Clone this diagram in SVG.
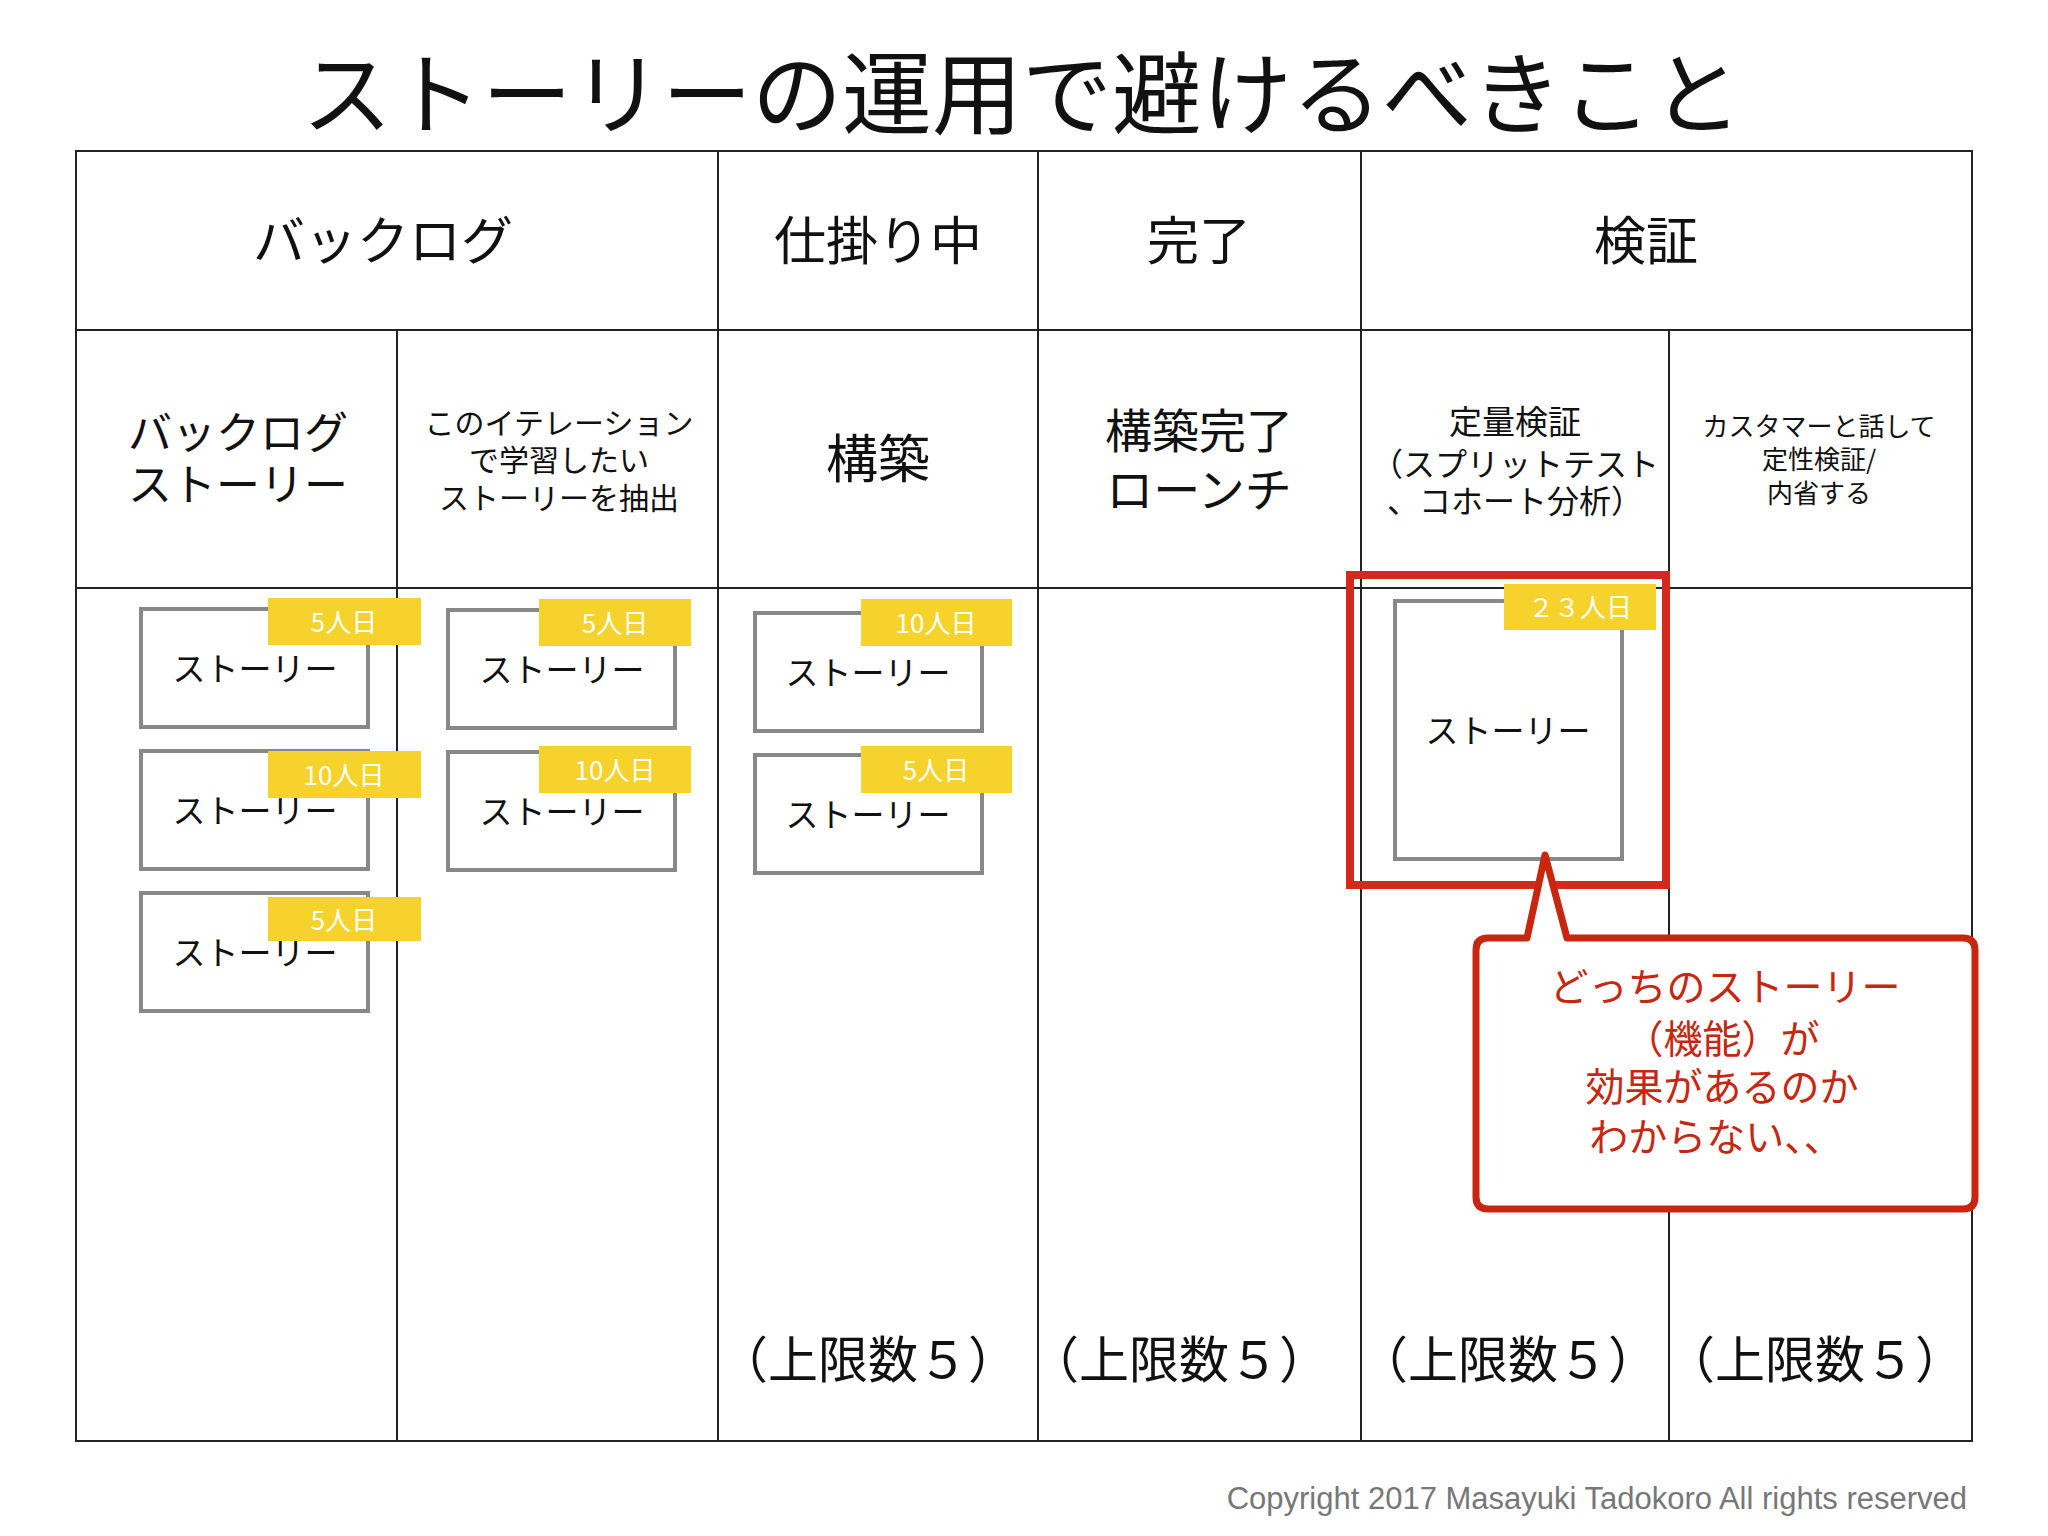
<svg xmlns="http://www.w3.org/2000/svg" width="2048" height="1536" viewBox="0 0 2048 1536">
<style>
text{font-family:"Noto Sans CJK JP","Liberation Sans",sans-serif;fill:#111;text-anchor:middle}
.ln{stroke:#222;stroke-width:2;fill:none}
.card{fill:#fff;stroke:#888;stroke-width:4}
.tag{fill:#f5d22c}
.tt{fill:#fff;font-size:26px}
.st{font-size:33px}
.lim{font-size:50px}
.red{fill:#c8260f;font-size:39px}
</style>
<rect width="2048" height="1536" fill="#fff"/>
<text x="1022" y="127" font-size="90">ストーリーの運用で避けるべきこと</text>
<g id="table">
<rect class="ln" x="76" y="151" width="1896" height="1290"/>
<line class="ln" x1="76" y1="330" x2="1972" y2="330"/>
<line class="ln" x1="76" y1="588" x2="1972" y2="588"/>
<line class="ln" x1="397" y1="330" x2="397" y2="1441"/>
<line class="ln" x1="718" y1="151" x2="718" y2="1441"/>
<line class="ln" x1="1038" y1="151" x2="1038" y2="1441"/>
<line class="ln" x1="1361" y1="151" x2="1361" y2="1441"/>
<line class="ln" x1="1669" y1="330" x2="1669" y2="1441"/>
</g>
<g id="headers" font-size="52">
<text x="383" y="260" font-size="52">バックログ</text>
<text x="878" y="260" font-size="52">仕掛り中</text>
<text x="1199" y="260" font-size="52">完了</text>
<text x="1646" y="260" font-size="52">検証</text>
<text x="238" y="449" font-size="44">バックログ</text>
<text x="238" y="501" font-size="44">ストーリー</text>
<text x="559" y="434" font-size="30">このイテレーション</text>
<text x="559" y="471" font-size="30">で学習したい</text>
<text x="559" y="509" font-size="30">ストーリーを抽出</text>
<text x="878" y="478" font-size="52">構築</text>
<text x="1199" y="448" font-size="47">構築完了</text>
<text x="1199" y="507" font-size="47">ローンチ</text>
<text x="1515" y="434" font-size="33">定量検証</text>
<text x="1515" y="476" font-size="32">（スプリットテスト</text>
<text x="1515" y="513" font-size="32">、コホート分析）</text>
<text x="1819" y="436" font-size="26">カスタマーと話して</text>
<text x="1819" y="469" font-size="26">定性検証/</text>
<text x="1819" y="503" font-size="26">内省する</text>
</g>
<g id="cards">
<rect class="card" x="141" y="609" width="227" height="118"/><rect class="tag" x="268" y="598" width="153" height="47"/><text class="tt" x="344" y="632">5人日</text><text class="st" x="255" y="681">ストーリー</text>
<rect class="card" x="141" y="751" width="227" height="118"/><text class="st" x="255" y="823">ストーリー</text><rect class="tag" x="268" y="751" width="153" height="47"/><text class="tt" x="344" y="785">10人日</text>
<rect class="card" x="141" y="893" width="227" height="118"/><text class="st" x="255" y="965">ストーリー</text><rect class="tag" x="268" y="897" width="153" height="44"/><text class="tt" x="344" y="930">5人日</text>
<rect class="card" x="448" y="610" width="227" height="118"/><rect class="tag" x="539" y="599" width="152" height="47"/><text class="tt" x="615" y="633">5人日</text><text class="st" x="562" y="682">ストーリー</text>
<rect class="card" x="448" y="752" width="227" height="118"/><rect class="tag" x="539" y="746" width="152" height="47"/><text class="tt" x="615" y="780">10人日</text><text class="st" x="562" y="824">ストーリー</text>
<rect class="card" x="755" y="613" width="227" height="118"/><rect class="tag" x="861" y="599" width="151" height="47"/><text class="tt" x="936" y="633">10人日</text><text class="st" x="868" y="685">ストーリー</text>
<rect class="card" x="755" y="755" width="227" height="118"/><rect class="tag" x="861" y="746" width="151" height="47"/><text class="tt" x="936" y="780">5人日</text><text class="st" x="868" y="827">ストーリー</text>
<rect class="card" x="1395" y="601" width="227" height="258"/><rect class="tag" x="1504" y="584" width="152" height="46"/><text class="tt" x="1580" y="617">２３人日</text><text class="st" x="1508" y="743">ストーリー</text>
</g>
<g id="highlight">
<rect x="1350" y="575" width="316" height="310" fill="none" stroke="#d42a1e" stroke-width="8"/>
<path d="M1476 950 Q1476 938 1488 938 L1527 938 L1545 855 L1567 938 L1963 938 Q1975 938 1975 950 L1975 1197 Q1975 1209 1963 1209 L1488 1209 Q1476 1209 1476 1197 Z" fill="#fff" stroke="#c8260f" stroke-width="7" stroke-linejoin="round"/>
<text class="red" x="1725" y="1001">どっちのストーリー</text>
<text class="red" x="1722" y="1053">（機能）が</text>
<text class="red" x="1722" y="1101">効果があるのか</text>
<text class="red" x="1716" y="1151">わからない、、</text>
</g>
<g id="limits">
<text class="lim" x="868" y="1378">（上限数５）</text>
<text class="lim" x="1179" y="1378">（上限数５）</text>
<text class="lim" x="1508" y="1378">（上限数５）</text>
<text class="lim" x="1815" y="1378">（上限数５）</text>
</g>
<text x="1967" y="1509" font-size="31" style="text-anchor:end;fill:#777;font-family:'Liberation Sans',sans-serif">Copyright 2017 Masayuki Tadokoro All rights reserved</text>
</svg>
